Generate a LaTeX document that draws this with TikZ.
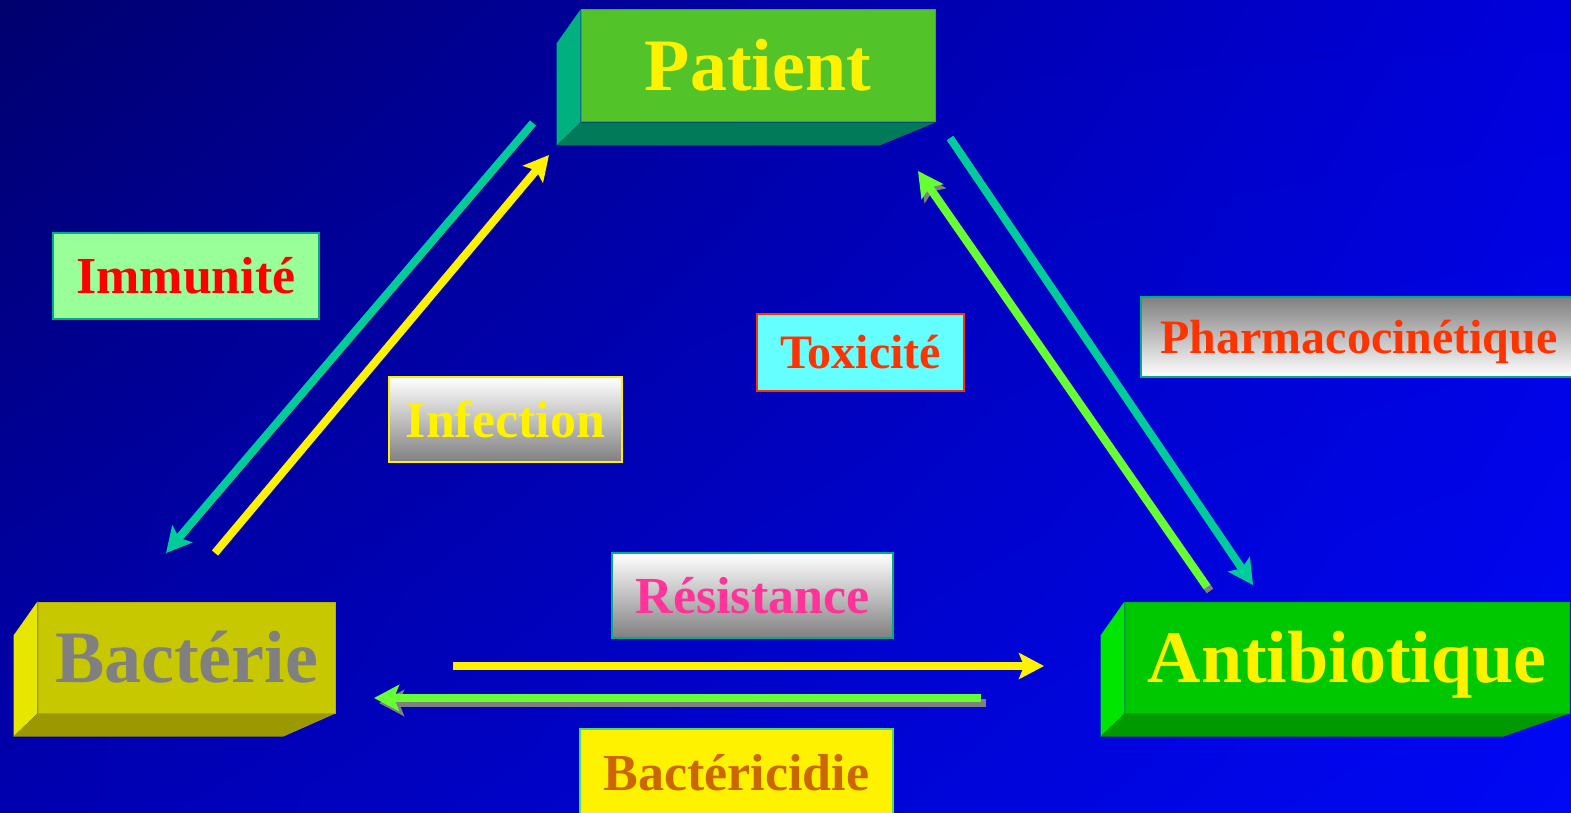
\documentclass[tikz,border=0pt]{standalone}
\usepackage{fontspec}
\setmainfont{Liberation Serif}
\usetikzlibrary{arrows.meta,shadings}

\definecolor{bgtl}{HTML}{00006E}
\definecolor{bgtr}{HTML}{0000DC}
\definecolor{bgbl}{HTML}{0000B0}
\definecolor{bgbr}{HTML}{0008F5}
\definecolor{patfront}{HTML}{52C42A}
\definecolor{patside}{HTML}{00B07E}
\definecolor{patbot}{HTML}{007A58}
\definecolor{bacfront}{HTML}{C8C800}
\definecolor{bacside}{HTML}{E6E600}
\definecolor{bacbot}{HTML}{9C9800}
\definecolor{abxfront}{HTML}{00C800}
\definecolor{abxside}{HTML}{00E600}
\definecolor{abxbot}{HTML}{009900}
\definecolor{tealline}{HTML}{00CC99}
\definecolor{limeline}{HTML}{66FF33}
\definecolor{mint}{HTML}{99FF99}
\definecolor{cyanbox}{HTML}{66FFFF}
\definecolor{redorange}{HTML}{FF3300}
\definecolor{pinktext}{HTML}{FF3399}
\definecolor{browntext}{HTML}{CC6600}
\definecolor{shadowgray}{HTML}{808080}

% side and bottom faces of a block: node, side colour, bottom colour, bottom right shift
\newcommand{\blockfaces}[4]{%
  \fill[#2] (#1.north west) -- ([shift={(-24,34)}]#1.north west)
    -- ([shift={(-24,23)}]#1.south west) -- (#1.south west) -- cycle;
  \fill[#3] (#1.south west) -- ([shift={(-24,23)}]#1.south west)
    -- ([shift={(#4,23)}]#1.south east) -- (#1.south east) -- cycle;
}

\tikzset{
  block/.style={inner sep=0pt, line width=1pt, font=\fontsize{74}{74}\selectfont\bfseries,
    text height=49pt, text depth=0pt},
  lbl/.style={draw, line width=2pt, inner sep=0pt, font=\fontsize{52}{52}\selectfont\bfseries,
    text height=35pt, text depth=0pt},
  small/.style={font=\fontsize{48}{48}\selectfont\bfseries, text height=32pt},
  arr/.style={line width=8pt, -{Stealth[length=25pt,width=26pt,inset=5pt]}},
}

\begin{document}
\begin{tikzpicture}[x=1pt,y=-1pt]
\useasboundingbox (0,0) rectangle (1571,813);
\shade[upper left=bgtl, upper right=bgtr, lower left=bgbl, lower right=bgbr]
  (0,0) rectangle (1571,813);

% blocks
\node[block, fill=patfront, draw=patfront!85!black, text=yellow,
  minimum width=354pt, minimum height=112pt] (pat) at (758,66) {Patient};
\blockfaces{pat}{patside}{patbot}{-56}
\node[block, fill=bacfront, draw=bacfront!90!black, text=shadowgray,
  minimum width=297pt, minimum height=111pt] (bac) at (186.5,657.5) {Bactérie};
\blockfaces{bac}{bacside}{bacbot}{-52}
\node[block, fill=abxfront, draw=abxfront!90!black, text=yellow,
  minimum width=444pt, minimum height=111pt] (abx) at (1347,657.5) {Antibiotique};
\blockfaces{abx}{abxside}{abxbot}{-66}

% labels
\node[lbl, fill=mint, draw=tealline!85!black, text=red,
  minimum width=266pt, minimum height=86pt] (immun) at (186,276) {Immunité};
\node[lbl, top color=white, bottom color=shadowgray, draw=yellow, text=yellow,
  minimum width=233pt, minimum height=85pt] (infec) at (505.5,419.5) {Infection};
\node[lbl, small, fill=cyanbox, draw=redorange, text=redorange,
  minimum width=207pt, minimum height=77pt] (toxic) at (860.5,352.5) {Toxicité};
\node[lbl, small, top color=shadowgray, bottom color=white, draw=tealline!85!black, text=redorange,
  minimum width=436pt, minimum height=80pt] (pharma) at (1359,337) {Pharmacocinétique};
\node[lbl, top color=white, bottom color=shadowgray, draw=tealline!85!black, text=pinktext,
  minimum width=281pt, minimum height=85pt] (resist) at (752.5,595.5) {Résistance};
\node[lbl, fill=yellow, draw=tealline!70!yellow, text=browntext,
  minimum width=313pt, minimum height=88pt] (bcidie) at (736.5,773) {Bactéricidie};

% arrow ends
\coordinate (immA) at (533,123);  \coordinate (immB) at (166,553);
\coordinate (infA) at (215,553);  \coordinate (infB) at (549,155);
\coordinate (pkA) at (950,138);   \coordinate (pkB) at (1253,585);
\coordinate (toxA) at (1207,587); \coordinate (toxB) at (918,171);
\coordinate (resA) at (453,666);  \coordinate (resB) at (1044,666);
\coordinate (bcA) at (981,698);   \coordinate (bcB) at (374,698);

\draw[arr, tealline] (immA) -- (immB);
\draw[arr, yellow] (infA) -- (infB);
\draw[arr, tealline] (pkA) -- (pkB);
\draw[arr, shadowgray] ([shift={(3,4)}]toxA) -- ([shift={(3,4)}]toxB);
\draw[arr, limeline] (toxA) -- (toxB);
\draw[arr, yellow] (resA) -- (resB);
\draw[arr, shadowgray] ([shift={(5,5)}]bcA) -- ([shift={(5,5)}]bcB);
\draw[arr, limeline] (bcA) -- (bcB);
\end{tikzpicture}
\end{document}
